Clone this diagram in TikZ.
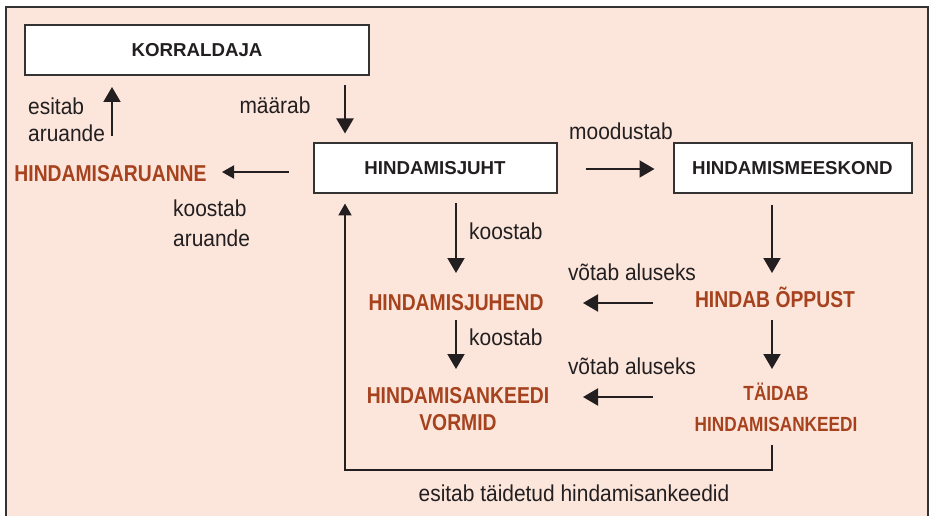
\documentclass[tikz,border=0pt]{standalone}
\usepackage{fontspec}
\setmainfont{Liberation Sans}
\newfontfamily\lblfont[FakeStretch=0.91]{Liberation Sans}
\newfontfamily\orfont[FakeStretch=0.84]{Liberation Sans}
\usetikzlibrary{arrows.meta}
\definecolor{peach}{HTML}{FCE6DC}
\definecolor{ink}{HTML}{231F20}
\definecolor{rust}{HTML}{A6431E}
\definecolor{framec}{HTML}{333333}
\begin{document}
\begin{tikzpicture}[x=1pt,y=-1pt,
  box/.style={draw=framec, line width=2pt, fill=white, inner sep=0pt, text=ink,
    font=\bfseries\fontsize{18.7}{22}\selectfont},
  lbl/.style={inner sep=0pt, text=ink, anchor=base, font=\lblfont\fontsize{23}{27}\selectfont},
  org/.style={inner sep=0pt, text=rust, anchor=base, align=center,
    font=\orfont\bfseries\fontsize{23}{27.4}\selectfont},
  arr/.style={draw=ink, line width=2pt, -{Triangle[length=15pt,width=17pt]}},
  arrs/.style={draw=ink, line width=2pt, -{Triangle[length=12pt,width=13pt]}},
]
\useasboundingbox (0,0) rectangle (930,516);
\fill[peach] (6,7) rectangle (928,516);
\draw[framec, line width=2pt] (6,516) -- (6,7) -- (928,7) -- (928,516);

% boxes
\node[box, minimum width=344pt, minimum height=50pt] (korr) at (197,50) {KORRALDAJA};
\node[box, minimum width=243pt, minimum height=50pt] (juht) at (435,168.5) {HINDAMISJUHT};
\node[box, minimum width=238pt, minimum height=50pt] (meesk) at (792.5,168) {HINDAMISMEESKOND};

% orange texts (base = baseline of last line)
\node[org] (aruanne) at (110.5,181.7) {HINDAMISARUANNE};
\node[org] (juhend) at (456,310) {HINDAMISJUHEND};
\node[org] (vormid) at (458,430.7) {HINDAMISANKEEDI\\VORMID};
\node[org] (hopp) at (775,307.3) {HINDAB ÕPPUST};
\node[org, font=\orfont\bfseries\fontsize{20.5}{31.7}\selectfont] (taidab) at (776,431.7) {TÄIDAB\\HINDAMISANKEEDI};

% labels
\node[lbl, anchor=base west, align=left, font=\lblfont\fontsize{23}{26.7}\selectfont] (l1) at (28,141.7) {esitab\\aruande};
\node[lbl] (l2) at (275,113.3) {määrab};
\node[lbl, anchor=base west, align=left, font=\lblfont\fontsize{23}{30}\selectfont] (l3) at (173,246.7) {koostab\\aruande};
\node[lbl] (l4) at (621,139.3) {moodustab};
\node[lbl, anchor=base west] (l5) at (469,239.3) {koostab};
\node[lbl, anchor=base west] (l6) at (469,345) {koostab};
\node[lbl] (l7) at (632,280) {võtab aluseks};
\node[lbl] (l8) at (632,374) {võtab aluseks};
\node[lbl] (l9) at (574,501.7) {esitab täidetud hindamisankeedid};

% helper coordinates
\coordinate (mx) at (345,0);
\coordinate (hx) at (772,0);
\coordinate (jx) at (456,0);
\coordinate (ay0) at (0,172);
\coordinate (ay2) at (0,169);
\coordinate (ay1) at (0,303);
\coordinate (ay3) at (0,397);
\coordinate (rb) at (0,470);
\coordinate (rs) at (772,445);
\coordinate (ea) at (112,136);

% connectors
\draw[arr, shorten >=11pt] (ea) -- (ea |- korr.south);
\draw[arr, shorten <=9pt, shorten >=9pt] (korr.south -| mx) -- (juht.north -| mx);
\draw[arrs, shorten <=24pt, shorten >=111.5pt] (juht.west |- ay0) -- (aruanne.base |- ay0);
\draw[arr, shorten <=28pt, shorten >=18pt] (juht.east |- ay2) -- (meesk.west |- ay2);
\draw[arr, shorten <=11pt, shorten >=34.3pt] (meesk.south -| hx) -- (hopp.base -| hx);
\draw[arr, shorten <=12.7pt, shorten >=62.7pt] (hopp.base -| hx) -- (taidab.base -| hx);
\draw[arr, shorten <=9pt, shorten >=37pt] (juht.south -| jx) -- (juhend.base -| jx);
\draw[arr, shorten <=10pt, shorten >=61.7pt] (juhend.base -| jx) -- (vormid.base -| jx);
\draw[arr, shorten <=122pt, shorten >=127pt] (hopp.base |- ay1) -- (juhend.base |- ay1);
\draw[arr, shorten <=123pt, shorten >=125pt] (taidab.base |- ay3) -- (vormid.base |- ay3);
\draw[arrs, shorten >=9pt] (rs) -- (rs |- rb) -| (juht.south -| mx);
\end{tikzpicture}
\end{document}
